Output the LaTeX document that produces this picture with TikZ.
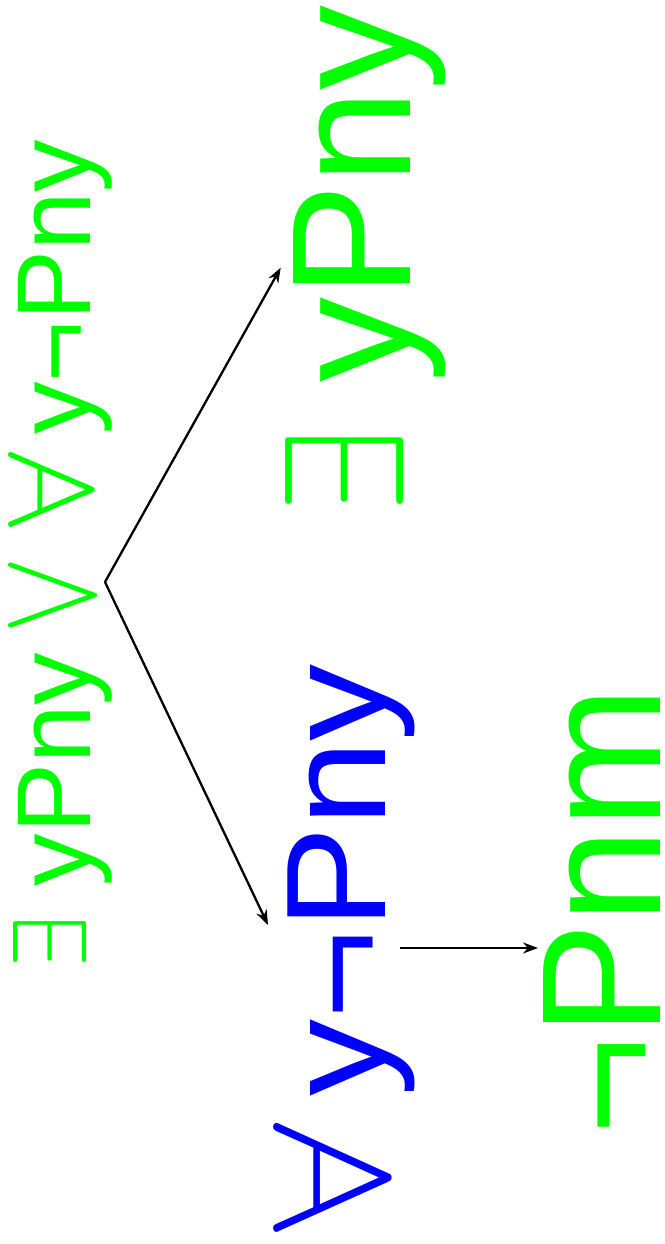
\documentclass[tikz,border=0pt]{standalone}
\usepackage{graphicx}
\usepackage{fontspec}
\setmainfont{Liberation Sans}
\usetikzlibrary{arrows.meta}
\definecolor{lgreen}{HTML}{00FF00}
\definecolor{pblue}{HTML}{0000FF}
\newcommand{\symb}[4]{\raisebox{#1pt}{\resizebox{#2pt}{#3pt}{$#4$}}}
\begin{document}
\begin{tikzpicture}[x=1pt,y=-1pt,
  lbl/.style={rotate=90,anchor=base east,inner sep=0pt,outer sep=0pt},
  arr/.style={line width=2.3pt,-{Stealth[length=15pt,width=11pt]}}]
\path[use as bounding box,fill=white] (0,0) rectangle (664,1244);
% root
\node[lbl,text=lgreen,font=\fontsize{105}{105}\selectfont] (root) at (90.7,140)
  {\symb{4.5}{51}{73}{\exists}\kern30pt yPny\kern18pt\symb{-4}{78}{80}{\vee}\kern29pt\symb{-1.3}{75}{84}{\forall}\kern18pt y¬Pny};
% right branch
\node[lbl,text=lgreen,font=\fontsize{170}{170}\selectfont] (ex) at (410,5)
  {\symb{7}{83}{118}{\exists}\kern47pt yPny};
% left branch
\node[lbl,text=pblue,font=\fontsize{142}{142}\selectfont] (all) at (385,664)
  {\symb{-3}{109}{115}{\forall}\kern27pt\scalebox{1.085}[1]{y¬Pny}};
% leaf
\node[lbl,text=lgreen,font=\fontsize{170}{170}\selectfont] (neg) at (660,687)
  {¬Pnm};
% connectors
\coordinate (j) at (105,582);
\coordinate (t1) at (280.7,267.7);
\coordinate (t2) at (268,925);
\coordinate (s3) at (400,948);
\coordinate (t3) at (538,948);
\draw[arr] (j) -- (t1);
\draw[arr] (j) -- (t2);
\draw[arr] (s3) -- (t3);
\end{tikzpicture}
\end{document}
